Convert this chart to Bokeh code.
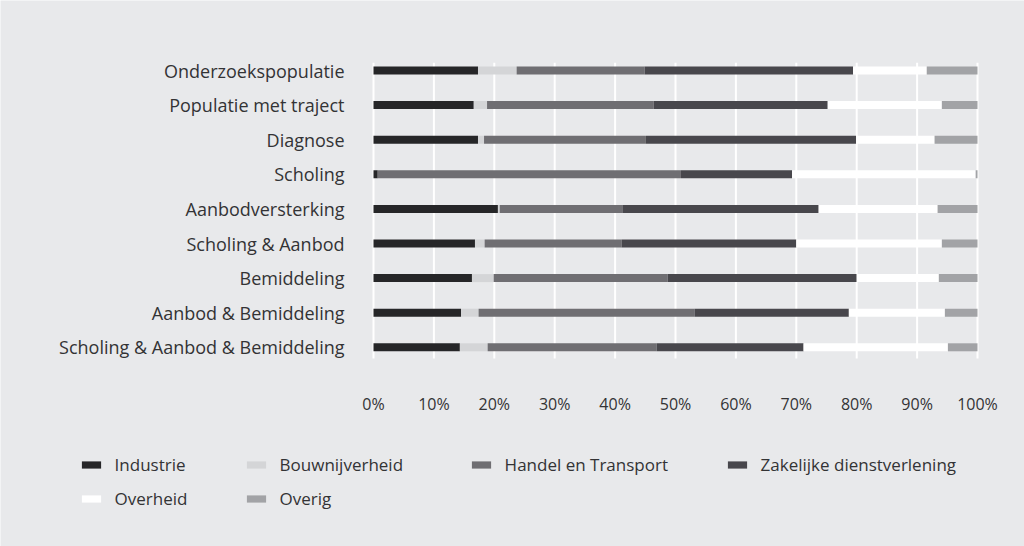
from bokeh.plotting import figure
from bokeh.models import ColumnDataSource, Range1d, Legend, LegendItem
from bokeh.core.properties import value
from bokeh.embed import file_html
from bokeh.resources import INLINE

# ---- data (percentages, rows top to bottom) ----
categories = [
    "Onderzoekspopulatie",
    "Populatie met traject",
    "Diagnose",
    "Scholing",
    "Aanbodversterking",
    "Scholing & Aanbod",
    "Bemiddeling",
    "Aanbod & Bemiddeling",
    "Scholing & Aanbod & Bemiddeling",
]
series = ["Industrie", "Bouwnijverheid", "Handel en Transport",
          "Zakelijke dienstverlening", "Overheid", "Overig"]
industrie = [17.3, 16.6, 17.3, 0.7, 20.6, 16.8, 16.3, 14.5, 14.3]
bouwnijverheid = [6.4, 2.2, 1.0, 0.0, 0.3, 1.6, 3.6, 2.9, 4.6]
handel = [21.2, 27.6, 26.8, 50.2, 20.4, 22.7, 28.8, 35.8, 28.0]
zakelijk = [34.5, 28.8, 34.8, 18.4, 32.4, 28.9, 31.3, 25.5, 24.3]
overheid = [12.2, 18.9, 13.0, 30.4, 19.7, 24.1, 13.6, 15.9, 23.9]
overig = [8.4, 5.9, 7.1, 0.3, 6.6, 5.9, 6.4, 5.4, 4.9]
x_ticks = [0, 10, 20, 30, 40, 50, 60, 70, 80, 90, 100]
x_tick_labels = ["0%", "10%", "20%", "30%", "40%", "50%", "60%", "70%", "80%", "90%", "100%"]

colors = ["#262628", "#d4d5d7", "#6f6e72", "#48474c", "#ffffff", "#a2a3a6"]
BG = "#e8e9eb"
TXT = "#333335"
FONT = "Open Sans"

# ---- layout constants (pixels) ----
W, H = 1024, 546
X0_PX, X100_PX = 373, 977          # where 0% and 100% fall
ROW1_PX, ROW_PITCH = 70, 34.6      # centre of first row, row spacing
PAD_TOP, PAD_BOT = 0.223, 0.327    # plot area beyond first/last row (row units)

n = len(categories)
ypos = [n - 1 - i for i in range(n)]
px_per_x = (X100_PX - X0_PX) / 100.0
x_start = -X0_PX / px_per_x
x_end = 100 + (W - X100_PX) / px_per_x
y_end = (n - 1) + ROW1_PX / ROW_PITCH
y_start = (n - 1) - (H - ROW1_PX) / ROW_PITCH
area_bottom = -PAD_BOT
area_top = (n - 1) + PAD_TOP

p = figure(width=W, height=H, output_backend="svg", toolbar_location=None,
           x_range=Range1d(x_start, x_end), y_range=Range1d(y_start, y_end),
           x_axis_location=None, y_axis_location=None, min_border=0)
p.background_fill_color = BG
p.border_fill_color = BG
p.outline_line_color = None
p.xgrid.grid_line_color = None
p.ygrid.grid_line_color = None

# vertical white grid lines at the tick values
grid_src = ColumnDataSource(dict(x=x_ticks, y0=[area_bottom] * len(x_ticks),
                                 y1=[area_top] * len(x_ticks), lab=x_tick_labels))
p.segment(x0="x", y0="y0", x1="x", y1="y1", source=grid_src,
          line_color="white", line_width=2)

# stacked bars
source = ColumnDataSource(dict(
    y=ypos, cat=categories,
    s0=industrie, s1=bouwnijverheid, s2=handel, s3=zakelijk, s4=overheid, s5=overig,
))
keys = ["s0", "s1", "s2", "s3", "s4", "s5"]
bars = p.hbar_stack(keys, y="y", height=0.231, source=source,
                    fill_color=colors, line_color=None)

# category labels (left of the 0% line)
source.data["x0"] = [0] * n
p.text(x="x0", y="y", text="cat", source=source, x_offset=-29,
       text_align="right", text_baseline="middle",
       text_font=value(FONT), text_font_size="18px", text_color=TXT)

# x tick labels below the plot area
p.text(x="x", y="y0", text="lab", source=grid_src, y_offset=45,
       text_align="center", text_baseline="middle",
       text_font=value(FONT), text_font_size="16px", text_color=TXT)

# ---- legend: four columns, two rows ----
item_h = 23
gap = 11
row1_center = 464
col_x = [78.6, 243.6, 468.6, 724.6]
col_items = [[0, 4], [1, 5], [2], [3]]
for cx, idxs in zip(col_x, col_items):
    leg_h = len(idxs) * item_h + (len(idxs) - 1) * gap
    top = row1_center - item_h / 2
    vy = H - leg_h - top
    leg = Legend(items=[LegendItem(label=series[i], renderers=[bars[i]]) for i in idxs],
                 location=(cx, vy), orientation="vertical",
                 glyph_width=24, glyph_height=9, label_height=item_h,
                 label_standoff=12, spacing=gap, padding=0, margin=0,
                 border_line_color=None, background_fill_alpha=0,
                 label_text_font=FONT, label_text_font_size="17px",
                 label_text_color=TXT)
    p.add_layout(leg)

open("out.html", "w").write(file_html(p, INLINE))
